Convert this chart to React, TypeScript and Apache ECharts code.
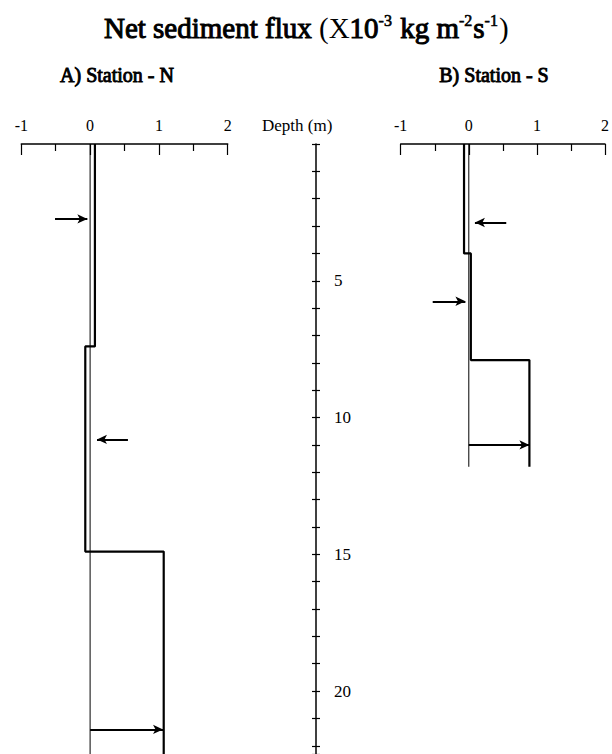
import React, { useEffect, useRef } from "react";
import * as echarts from "echarts";

// Depth axis (m)
const depthMin = 0;
const depthMax = 22.3;
const depthLabels = [5, 10, 15, 20];

// Flux axis ticks
const fluxMin = -1;
const fluxMax = 2;

// Station N profile (flux x1e-3 kg m-2 s-1 vs depth m)
const nDepth = [0, 7.4, 7.4, 14.9, 14.9, 22.3];
const nFlux = [0.07, 0.07, -0.07, -0.07, 1.07, 1.07];
const nZeroDepth = [0, 22.3];

// Station S profile
const sDepth = [0, 4, 4, 7.9, 7.9, 11.8];
const sFlux = [-0.07, -0.07, 0.03, 0.03, 0.89, 0.89];
const sZeroDepth = [0, 11.8];

// Arrows: depth, start flux, end flux
const nArrowDepth = [2.74, 10.8, 21.4];
const nArrowFrom = [-0.51, 0.55, 0];
const nArrowTo = [-0.04, 0.1, 1.06];
const sArrowDepth = [2.87, 5.75, 11.0];
const sArrowFrom = [0.55, -0.53, 0];
const sArrowTo = [0.09, -0.05, 0.89];

const FONT = "'Liberation Serif', 'Times New Roman', serif";

export default function App() {
  const ref = useRef<HTMLDivElement>(null);
  useEffect(() => {
    document.body.style.margin = "0";
    if (!ref.current) return;
    const chart = echarts.init(ref.current, null, { renderer: "svg" });

    const top = 144;
    const height = 611;

    const fluxAxis = (gridIndex: number) => ({
      type: "value",
      gridIndex,
      position: "top",
      min: fluxMin,
      max: fluxMax,
      interval: 1,
      axisLine: { show: true, lineStyle: { color: "#000", width: 1.5 } },
      axisTick: { show: true, inside: true, length: 11, lineStyle: { color: "#000", width: 1.2 } },
      minorTick: { show: true, splitNumber: 2, length: 7, lineStyle: { color: "#000", width: 1.2 } },
      splitLine: { show: false },
      axisLabel: { show: true, color: "#000", fontSize: 16, fontFamily: FONT, margin: 11 },
    });

    const depthAxisHidden = (gridIndex: number) => ({
      type: "value",
      gridIndex,
      inverse: true,
      min: depthMin,
      max: depthMax,
      show: false,
    });

    const profile = (flux: number[], depth: number[], gi: number, width: number) => ({
      type: "line",
      xAxisIndex: gi,
      yAxisIndex: gi,
      symbol: "none",
      silent: true,
      lineStyle: { color: "#000", width },
      data: flux.map((f, i) => [f, depth[i]]),
    });

    const arrows = (d: number[], from: number[], to: number[]) =>
      d.map((dep, i) => [{ coord: [from[i], dep] }, { coord: [to[i], dep] }]);

    const withArrows = (s: any, d: number[], from: number[], to: number[]) => ({
      ...s,
      markLine: {
        silent: true,
        symbol: ["none", "arrow"],
        symbolSize: [7, 10],
        label: { show: false },
        lineStyle: { color: "#000", width: 2, type: "solid" },
        data: arrows(d, from, to),
      },
    });

    const boldLike = { fontFamily: FONT, fontWeight: "normal", fill: "#000", stroke: "#000", lineWidth: 0.9 };

    const option: any = {
      animation: false,
      backgroundColor: "#fff",
      grid: [
        { left: 21.3, width: 206.4, top, height },
        { left: 400.7, width: 205.3, top, height },
        { left: 316, width: 1, top, height },
      ],
      xAxis: [fluxAxis(0), fluxAxis(1), { type: "value", gridIndex: 2, show: false, min: 0, max: 1 }],
      yAxis: [
        depthAxisHidden(0),
        depthAxisHidden(1),
        {
          type: "value",
          gridIndex: 2,
          inverse: true,
          min: depthMin,
          max: depthMax,
          interval: 1,
          position: "left",
          axisLine: { show: true, lineStyle: { color: "#000", width: 1.5 } },
          axisTick: { show: true, inside: false, length: 4, lineStyle: { color: "#000", width: 1.2 } },
          splitLine: { show: false },
          axisLabel: {
            show: true,
            inside: true,
            margin: 18,
            color: "#000",
            fontSize: 17,
            fontFamily: FONT,
            formatter: (v: number) => (depthLabels.indexOf(v) >= 0 ? String(v) : ""),
          },
        },
        {
          type: "value",
          gridIndex: 2,
          inverse: true,
          min: depthMin,
          max: depthMax,
          interval: 1,
          position: "left",
          axisLine: { show: false },
          axisTick: { show: true, inside: true, length: 4, lineStyle: { color: "#000", width: 1.2 } },
          splitLine: { show: false },
          axisLabel: { show: false },
        },
      ],
      graphic: [
        {
          type: "text",
          left: "center",
          top: 12,
          style: {
            text: "{a|Net sediment flux }{b|(X}{a|10}{s|-3}{a| kg m}{s|-2}{a|s}{s|-1}{b|)}",
            rich: {
              a: { fontSize: 29, fontFamily: FONT, fill: "#000", stroke: "#000", lineWidth: 1, lineHeight: 32, verticalAlign: "bottom" },
              b: { fontSize: 29, fontFamily: FONT, fill: "#000", lineHeight: 32, verticalAlign: "bottom" },
              s: { fontSize: 16, fontFamily: FONT, fill: "#000", stroke: "#000", lineWidth: 0.6, lineHeight: 16, verticalAlign: "bottom", padding: [0, 1, 14, 0] },
            },
          },
        },
        {
          type: "text",
          x: 117,
          y: 75,
          style: {
            text: "A) Station - N",
            fontSize: 20,
            ...boldLike,
            align: "center",
            verticalAlign: "middle",
          },
        },
        {
          type: "text",
          x: 494,
          y: 75,
          style: {
            text: "B) Station - S",
            fontSize: 20,
            ...boldLike,
            align: "center",
            verticalAlign: "middle",
          },
        },
        {
          type: "text",
          x: 262,
          y: 125,
          style: {
            text: "Depth (m)",
            fontSize: 17,
            fontFamily: FONT,
            fill: "#000",
            align: "left",
            verticalAlign: "middle",
          },
        },
      ],
      series: [
        profile(nZeroDepth.map(() => 0), nZeroDepth, 0, 1),
        withArrows(profile(nFlux, nDepth, 0, 2.2), nArrowDepth, nArrowFrom, nArrowTo),
        profile(sZeroDepth.map(() => 0), sZeroDepth, 1, 1),
        withArrows(profile(sFlux, sDepth, 1, 2.2), sArrowDepth, sArrowFrom, sArrowTo),
      ],
    };

    chart.setOption(option);
    return () => chart.dispose();
  }, []);

  return <div ref={ref} style={{ width: 612, height: 754 }} />;
}
